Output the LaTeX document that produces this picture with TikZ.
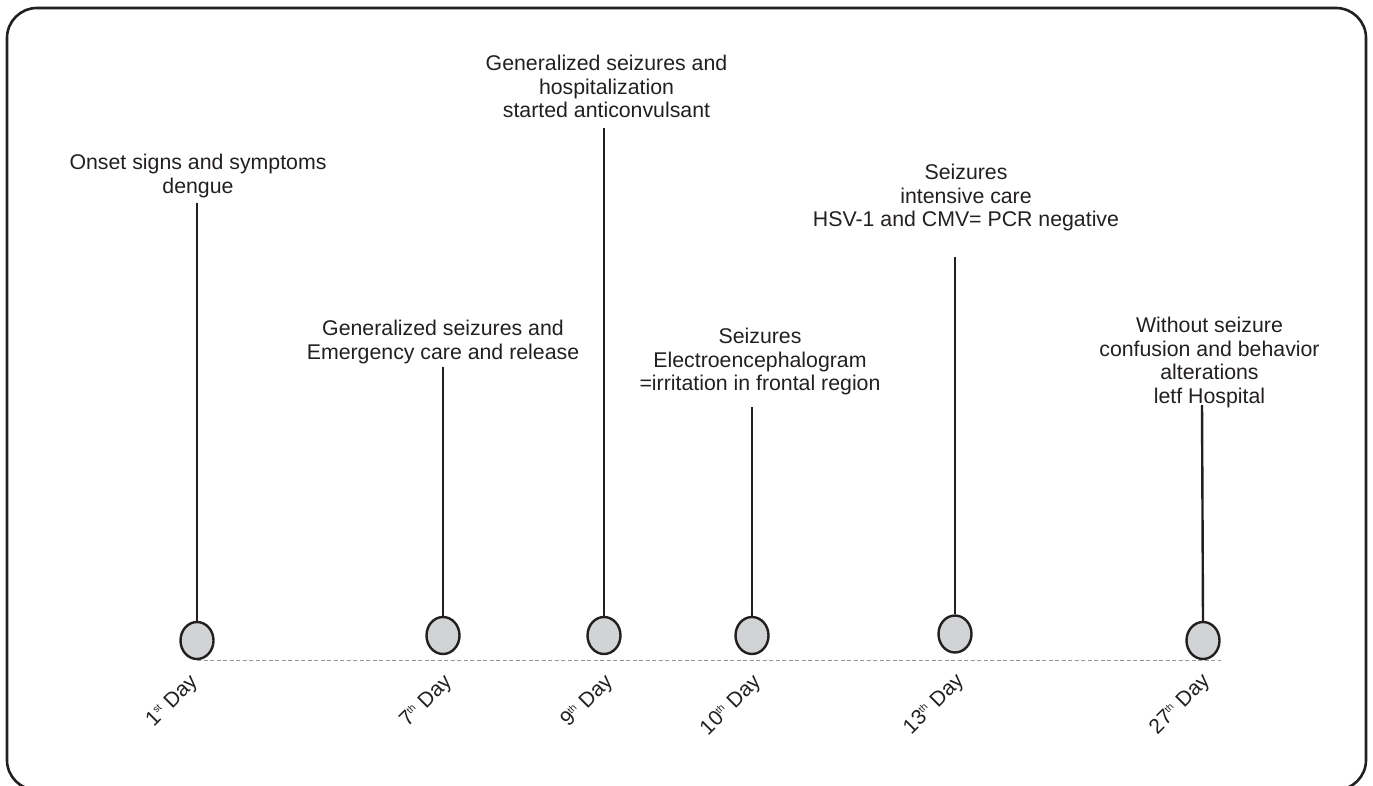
\documentclass[tikz,border=0pt]{standalone}
\usepackage{fontspec}
\setmainfont{Liberation Sans}
\usetikzlibrary{shapes.geometric}
\definecolor{ink}{HTML}{231F20}
\definecolor{dotfill}{HTML}{D1D3D4}
\definecolor{dashgray}{HTML}{9A9A9A}
\tikzset{
  frame/.style={draw=ink, line width=2.6pt, rounded corners=30pt},
  event/.style={font=\fontsize{21.3}{23.5}\selectfont, text=ink, align=center, anchor=north, inner sep=0pt},
  stem/.style={draw=ink, line width=2.4pt},
  dot/.style={ellipse, draw=ink, fill=dotfill, line width=2.4pt, minimum width=33pt, minimum height=37pt, inner sep=0pt},
  axis/.style={draw=dashgray, line width=1pt, dash pattern=on 4pt off 2.5pt},
  daylabel/.style={font=\fontsize{21}{22}\selectfont, text=ink, rotate=45, anchor=east, inner sep=0pt},
}
\newcommand{\sfx}[1]{\textsuperscript{\fontsize{10}{10}\selectfont #1}}
\begin{document}
\begin{tikzpicture}[x=1pt, y=-1pt]
\useasboundingbox (0,0) rectangle (1373,786);
\draw[frame] (7,8) rectangle (1366,790);

% circles
\node[dot] (c1) at (197,640.5) {};
\node[dot] (c2) at (443,635.5) {};
\node[dot] (c3) at (604,635.5) {};
\node[dot] (c4) at (752,635.5) {};
\node[dot] (c5) at (955,634) {};
\node[dot] (c6) at (1203,640.5) {};

% axis
\draw[axis] (c1.south) -- (c1.south -| c6.east);

% texts
\node[event] (t1) at (198,154.3) {Onset signs and symptoms\\dengue};
\node[event] (t2) at (443,320.3) {Generalized seizures and\\Emergency care and release};
\node[event] (t3) at (606.5,55.3) {Generalized seizures and\\hospitalization\\started anticonvulsant};
\node[event] (t4) at (760,328.3) {Seizures\\Electroencephalogram\\=irritation in frontal region};
\node[event] (t5) at (966,164.3) {Seizures\\intensive care\\HSV-1 and CMV= PCR negative};
\node[event] (t6) at (1209.5,317.3) {Without seizure\\confusion and behavior\\alterations\\letf Hospital};

% stem tops
\coordinate (p1) at (197,203);
\coordinate (p2) at (443,367);
\coordinate (p3) at (604,128);
\coordinate (p4) at (752,407);
\coordinate (p5) at (955,257);
\coordinate (p6) at (1202,405);

\draw[stem] (p1) -- (c1.north);
\draw[stem] (p2) -- (c2.north);
\draw[stem] (p3) -- (c3.north);
\draw[stem] (p4) -- (c4.north);
\draw[stem] (p5) -- (c5.north);
\draw[stem] (p6) -- (c6.north);

% day labels
\node[daylabel] (d1) at (195,679) {1\sfx{st} Day};
\node[daylabel] (d2) at (449,679) {7\sfx{th} Day};
\node[daylabel] (d3) at (610,679) {9\sfx{th} Day};
\node[daylabel] (d4) at (758,679) {10\sfx{th} Day};
\node[daylabel] (d5) at (961,678) {13\sfx{th} Day};
\node[daylabel] (d6) at (1207,678) {27\sfx{th} Day};
\end{tikzpicture}
\end{document}
